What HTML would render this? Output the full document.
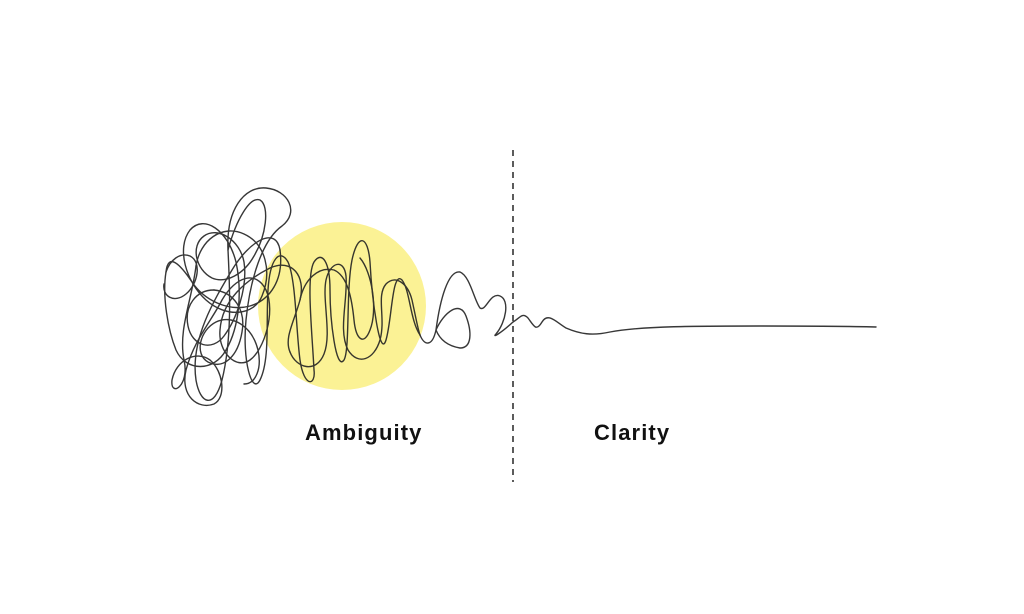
<!DOCTYPE html>
<html><head><meta charset="utf-8"><style>
html,body{margin:0;padding:0;background:#fff;}
svg{display:block}
text{font-family:"Liberation Sans",sans-serif;font-weight:bold;font-size:22px;fill:#111;letter-spacing:1.1px}
</style></head><body>
<svg width="1024" height="614" viewBox="0 0 1024 614" xmlns="http://www.w3.org/2000/svg">
<circle cx="342" cy="306" r="84" fill="#fbf295"/>
<line x1="513" y1="150" x2="513" y2="482" stroke="#333" stroke-width="1.6" stroke-dasharray="6,5"/>
<g fill="none" stroke="#222" stroke-width="1.4" stroke-linecap="round" stroke-linejoin="round" opacity="0.9">
<path d="M513,322 C520,318 522,312 528,318 C534,326 536,332 542,322 C548,312 556,322 566,328 C580,334 592,336 610,332 C640,326 700,326 760,326 C800,326 840,326 876,327"/>
<path d="M420,335 C424,345 432,348 436,330 C440,300 448,270 460,272 C470,276 474,300 480,308 C486,312 490,292 500,296 C510,300 506,322 496,334 C492,338 500,334 513,322"/>
<path d="M436,330 C444,312 460,300 466,316 C472,332 472,348 460,348 C448,346 440,340 436,330 Z"/>
<path d="M420,335 C410,320 410,290 402,280 C392,270 392,320 386,340 C380,360 372,300 370,262 C368,236 358,232 352,260 C346,290 350,350 344,360 C336,372 330,320 330,290 C330,262 322,250 314,262 C306,276 312,330 314,370 C316,386 304,388 300,360 C296,330 296,280 288,262 C280,248 270,258 268,290 C266,320 270,360 260,380 C252,396 242,360 246,320 C250,280 262,240 282,226 C300,212 288,190 266,188 C244,186 226,210 228,250 C230,290 232,340 222,380 C214,410 200,404 196,380 C190,340 214,300 232,270 C250,240 276,226 280,250"/>
<path d="M280,250 C284,280 270,300 250,306 C228,312 204,300 192,282 C180,264 168,252 166,272 C162,296 168,330 176,350 C186,372 214,372 226,350 C240,326 242,290 236,262 C228,230 204,214 190,230 C176,248 186,282 206,300 C226,318 254,316 262,296 C272,272 266,244 244,234 C222,224 200,240 196,266"/>
<path d="M196,266 C192,300 178,330 184,360 C190,386 170,398 172,380 C176,360 196,350 210,360 C224,372 226,398 214,404 C198,410 180,396 186,370 C194,340 212,320 222,300 C236,276 256,270 266,290 C276,312 264,350 250,360 C236,370 218,352 220,330 C222,300 246,280 270,268 C292,258 306,276 300,300 C294,322 284,338 290,352"/>
<path d="M290,352 C296,368 316,374 324,354 C332,334 322,300 326,280 C330,262 344,258 346,276 C348,300 338,330 348,350 C358,366 374,360 380,340 C386,318 376,296 386,284 C396,274 408,284 412,300 C416,318 418,330 420,335"/>
<path d="M228,250 C236,220 250,196 260,200 C270,206 266,236 254,256 C244,274 226,284 212,278 C196,270 190,246 204,236 C218,226 240,240 244,262 C248,288 236,320 224,336 C212,352 192,346 188,326 C184,306 196,290 214,290"/>
<path d="M214,290 C234,292 246,310 242,332 C238,356 224,370 208,362 C194,354 200,330 216,322 C232,314 252,326 258,350 C262,368 256,384 244,384"/>
<path d="M166,272 C170,260 180,252 190,256 C202,262 198,284 186,294 C174,304 162,296 164,284"/>
<path d="M300,300 C304,280 318,266 334,270 C348,276 352,300 354,320 C356,340 364,346 370,330 C378,310 372,272 360,258"/>
</g>
<text x="305" y="440">Ambiguity</text>
<text x="594" y="440">Clarity</text>
</svg>
</body></html>
